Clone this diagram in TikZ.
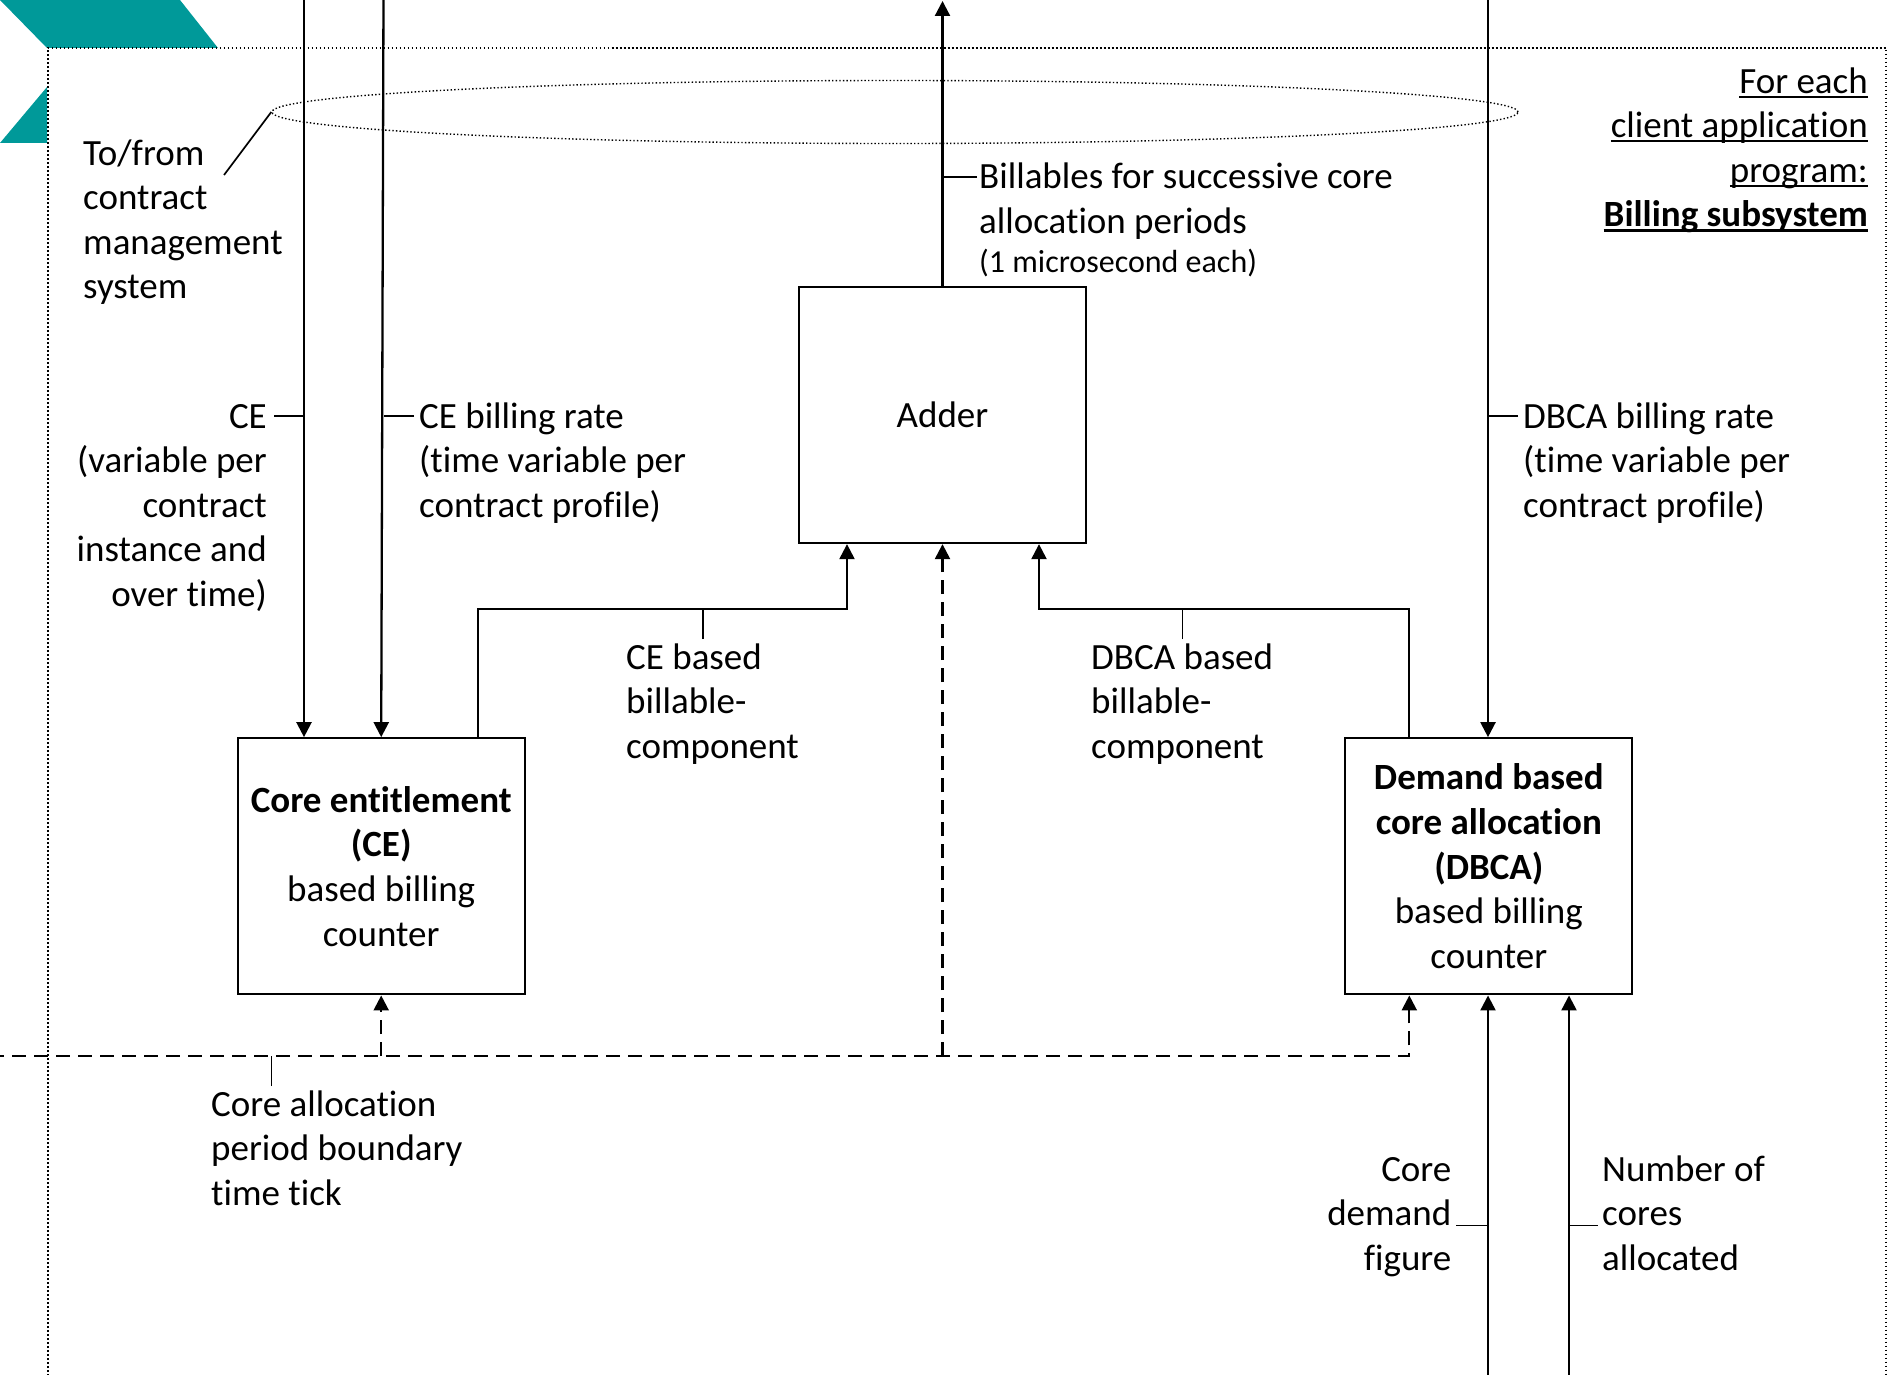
\documentclass[tikz,border=0pt]{standalone}
\usepackage{fontspec}
\setmainfont{Carlito}[Ligatures=NoCommon]
\usetikzlibrary{arrows.meta, positioning, shapes.geometric}

\definecolor{brandteal}{RGB}{0,153,153}
\newcommand{\ulined}[2][2pt]{\setbox0\hbox{#2}\rlap{\rule[-4.7pt]{\wd0}{#1}}\box0}

\begin{document}
\begin{tikzpicture}[
    x=1pt, y=-1pt,
    font=\fontsize{37}{44.6}\selectfont,
    box/.style={rectangle, draw, line width=2.3pt, minimum width=287pt,
                minimum height=256pt, align=center, inner sep=0pt},
    arr/.style={-{Triangle[length=15pt,width=15pt]}, line width=2.3pt},
    arrdash/.style={arr, dash pattern=on 14pt off 8pt},
    leadline/.style={line width=1.7pt},
    lbl/.style={inner sep=0pt, align=left, anchor=base west},
    rlbl/.style={inner sep=0pt, align=right, anchor=base east},
    frame/.style={line width=1.8pt, dash pattern=on 1.8pt off 2.2pt}
]
\useasboundingbox (0,0) rectangle (1892,1375);
\clip (0,0) rectangle (1892,1375);

% Corner marks
\fill[brandteal] (0,0) -- (180,0) -- (218,48) -- (47,48) -- cycle;
\fill[brandteal] (47,87) -- (47,143) -- (0,143) -- cycle;

% Subsystem frame (labels sit on their last baseline)
\draw[frame] (47.7,1400) -- (47.7,48) -- (1886,48) -- (1886,1400);
\node[rlbl] (title) at (1868,226.8)
    {\ulined{For each}\\\ulined{client application}\\\ulined{program:}\\
     \ulined[2.6pt]{\textbf{Billing subsystem}}};

% Contract management group
\node[ellipse, draw, line width=1.4pt, dash pattern=on 1.4pt off 2.2pt,
      minimum width=1246pt, minimum height=63pt, inner sep=0pt] (grp) at (895,112) {};
\node[lbl] (tofrom) at (83,298.8) {To/from\\contract\\management\\system};
\coordinate (tfend) at (224,175);
\draw[leadline] (tfend) -- (grp.west);

% Blocks
\node[box] (adder) at (942.5,415) {Adder};
\node[box, below left=193pt and 272pt of adder] (ce)
    {\textbf{Core entitlement}\\\textbf{(CE)}\\based billing\\counter};
\node[box, below right=193pt and 257pt of adder] (dbca)
    {\textbf{Demand based}\\\textbf{core allocation}\\\textbf{(DBCA)}\\based billing\\counter};

% Inputs from the top
\coordinate (ceA) at (304,-5);
\coordinate (ceB) at (383.5,-5);
\coordinate (dbA) at (1488,-5);
\coordinate (outtop) at (942.5,1);
\draw[arr] (ceA) -- (ceA |- ce.north);
\draw[arr] (ceB) -- (ce.north);
\draw[arr] (dbA) -- (dbA |- dbca.north);
\draw[arr] (adder) -- (outtop);

\node[rlbl] (lblce) at (267,606.4)
    {CE\\(variable per\\contract\\instance and\\over time)};
\draw[leadline] (lblce.base east) ++(7,-190.4) -- ++(30,0);
\node[lbl] (lblcerate) at (419,517.2)
    {CE billing rate\\(time variable per\\contract profile)};
\draw[leadline] (lblcerate.base west) ++(-5,-101.2) -- ++(-30,0);
\node[lbl] (lbldbrate) at (1523,517.2)
    {DBCA billing rate\\(time variable per\\contract profile)};
\draw[leadline] (lbldbrate.base west) ++(-5,-101.2) -- ++(-30,0);
\node[lbl] (lblout) at (979,272.6)
    {Billables for successive core\\allocation periods\\[-5pt]
     {\fontsize{32}{40}\selectfont (1 microsecond each)}};
\draw[leadline] (lblout.base west) ++(-2,-95.6) -- ++(-33.5,0);

% Billable components into the adder
\draw[arr] ([xshift=96.5pt]ce.north) |- ([xshift=-95.5pt,yshift=-65pt]adder.south)
    -- ([xshift=-95.5pt]adder.south);
\draw[arr] ([xshift=-79.5pt]dbca.north) |- ([xshift=96.5pt,yshift=-65pt]adder.south)
    -- ([xshift=96.5pt]adder.south);
\node[lbl] (lblcebill) at (626,758.2) {CE based\\billable-\\component};
\draw[leadline] (lblcebill.base west) ++(77,-119.2) -- ++(0,-31);
\node[lbl] (lbldbbill) at (1091,758.2) {DBCA based\\billable-\\component};
\draw[leadline] (lbldbbill.base west) ++(91.5,-119.2) -- ++(0,-31);

% Time tick
\coordinate (tickin) at (-10,1056);
\draw[arrdash] (tickin) -| ([xshift=-79.5pt]dbca.south);
\draw[arrdash] (ce.south |- tickin) -- (ce.south);
\draw[arrdash] (adder.south |- tickin) -- (adder.south);
\node[lbl] (lbltick) at (211,1205.2) {Core allocation\\period boundary\\time tick};
\draw[leadline] (lbltick.base west) ++(60.5,-119.2) -- ++(0,-30);

% Inputs from below
\coordinate (dmA) at (1488,1390);
\coordinate (dmB) at (1569,1390);
\draw[arr] (dmA) -- (dmA |- dbca.south);
\draw[arr] (dmB) -- (dmB |- dbca.south);
\node[rlbl] (lbldemand) at (1451.5,1270.2) {Core\\demand\\figure};
\draw[leadline] (lbldemand.base east) ++(4.5,-44.6) -- ++(32,0);
\node[lbl] (lblcores) at (1602,1270.2) {Number of\\cores\\allocated};
\draw[leadline] (lblcores.base west) ++(-4.5,-44.6) -- ++(-28.5,0);
\end{tikzpicture}
\end{document}
